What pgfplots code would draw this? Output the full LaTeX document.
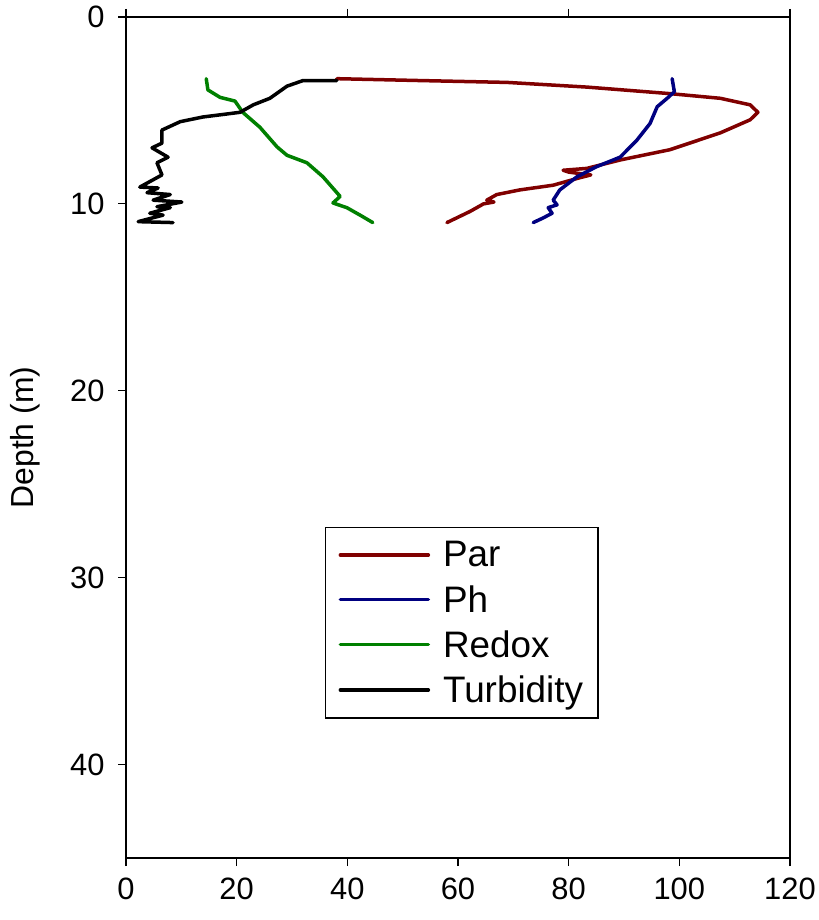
\documentclass[border=0pt]{standalone}
\usepackage{pgfplots}
\pgfplotsset{compat=1.18}
\usepackage{fontspec}
\setmainfont{Liberation Sans}
\definecolor{parc}{RGB}{128,0,0}
\definecolor{phc}{RGB}{0,0,128}
\definecolor{redoxc}{RGB}{0,128,0}
\begin{document}
\begin{tikzpicture}
\path[use as bounding box] (0,0) rectangle (819bp,920bp);
\begin{axis}[
 at={(126bp,62bp)}, anchor=south west,
 scale only axis, width=664bp, height=841bp,
 xmin=0,xmax=120,ymin=0,ymax=45, y dir=reverse,
 xtick={0,20,...,120}, ytick={0,10,...,40},
 xtick pos=bottom, ytick pos=left,
 tick align=outside, major tick length=8bp,
 tick style={line width=1.2bp, black},
 axis line style={line width=1.2bp},
 /pgf/number format/assume math mode=true,
 ticklabel style={font=\fontsize{31}{36}\selectfont},
 xticklabel style={yshift=-8bp},
 yticklabel style={xshift=-10bp},
 ylabel={Depth (m)},
 label style={font=\fontsize{32}{38}\selectfont},
 ylabel style={at={(axis description cs:-0.152,0.5)}, anchor=center},
 legend cell align=left,
 legend style={at={(axis description cs:0.2997,0.3936)}, anchor=north west, draw=black, line width=1.2bp,
   font=\fontsize{37}{42}\selectfont, inner xsep=13bp, inner ysep=12bp, row sep=13bp},
 legend image code/.code={\draw[#1, line width=3.5bp] (0bp,0bp) -- (88bp,0bp); \path (99bp,0bp);},
 every axis plot/.append style={line width=3.5bp, line join=round, line cap=round, no markers},
]
\addplot[parc] coordinates {
(38.1,3.3) (53.1,3.4) (68.9,3.5) (83.3,3.75) (98.3,4.1) (107.4,4.35) (112.8,4.7) (114.2,5.1)
(112.8,5.5) (107.4,6.2) (98.3,7.1) (89.3,7.65) (83.3,8.1) (79,8.2) (80,8.3) (84,8.45) (82,8.6)
(77.2,9.0) (71.2,9.25) (67.0,9.5) (65.2,9.8) (66.5,9.9) (64.6,10.0) (62.2,10.4) (58.0,11.0)
};
\addlegendentry{Par}
\addplot[phc] coordinates {
(98.7,3.3) (99.1,4.0) (97.8,4.35) (96.0,4.8) (94.7,5.7) (92.3,6.6) (89.3,7.5) (85.1,8.0)
(81.5,8.55) (78.4,9.25) (77.2,9.8) (77.9,10.05) (76.3,10.2) (77.0,10.5) (75.4,10.75) (73.6,11.0)
};
\addlegendentry{Ph}
\addplot[redoxc] coordinates {
(14.5,3.3) (14.8,3.9) (17.0,4.3) (19.7,4.5) (21.1,5.1) (24.2,5.9) (27.3,6.95) (29.1,7.4)
(32.7,7.8) (35.6,8.55) (38.7,9.6) (37.4,9.95) (39.9,10.2) (42.3,10.6) (44.6,11.0)
};
\addlegendentry{Redox}
\addplot[black] coordinates {
(38.1,3.4) (32.0,3.4) (29.1,3.7) (26.0,4.35) (23.0,4.7) (20.6,5.1) (13.9,5.35) (9.8,5.6)
(6.5,6.05) (6.5,6.75) (4.7,7.0) (7.6,7.5) (5.6,7.8) (6.5,8.45) (2.5,9.1) (5.8,9.15) (3.8,9.4)
(8.0,9.5) (4.9,9.8) (10.1,9.9) (5.6,10.15) (8.0,10.2) (4.3,10.5) (6.7,10.6) (2.2,10.95) (8.5,11.0)
};
\addlegendentry{Turbidity}
\end{axis}
\begin{axis}[
 at={(126bp,62bp)}, anchor=south west,
 scale only axis, width=664bp, height=841bp,
 xmin=0,xmax=120,ymin=0,ymax=45,
 axis x line*=top, axis y line=none,
 xtick={0,40,80,120}, xticklabels={},
 tick align=outside, major tick length=8bp,
 tick style={line width=1.2bp, black},
 axis line style={line width=1.2bp, -},
]
\end{axis}
\end{tikzpicture}
\end{document}
